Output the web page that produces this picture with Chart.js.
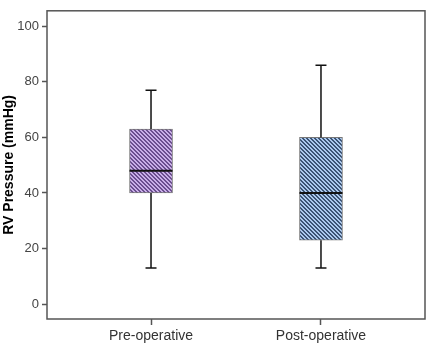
<!DOCTYPE html>
<html>
<head>
<meta charset="utf-8">
<script src="https://cdn.jsdelivr.net/npm/chart.js@4.4.0/dist/chart.umd.min.js"></script>
<style>
  html, body { margin: 0; padding: 0; background: #fff; }
  #wrap { width: 433px; height: 347px; }
</style>
</head>
<body>
<div id="wrap"><canvas id="myChart" width="433" height="347"></canvas></div>
<script>
// Box plot values
const categories = ["Pre-operative", "Post-operative"];
const minVals = [13, 13];
const q1Vals = [40, 23];
const medianVals = [48, 40];
const q3Vals = [63, 60];
const maxVals = [77, 86];
const yTicks = [0, 20, 40, 60, 80, 100];

// hatched fill, lines going down to the right
function hatch(light, dark) {
    const c = document.createElement("canvas");
    c.width = 4; c.height = 4;
    const g = c.getContext("2d");
    g.fillStyle = light;
    g.fillRect(0, 0, 4, 4);
    g.fillStyle = dark;
    for (let i = 0; i < 4; i++) {
        g.fillRect(i, i, 1, 1);
        g.fillRect((i + 1) % 4, i, 1, 1);
    }
    return g.createPattern(c, "repeat");
}

// whiskers, medians and the frame round the plot
const boxExtras = {
    id: "boxExtras",
    afterDatasetsDraw(chart) {
        const ctx = chart.ctx;
        const xs = chart.scales.x, ys = chart.scales.y;
        const meta = chart.getDatasetMeta(0);
        ctx.save();
        ctx.strokeStyle = "#111";
        categories.forEach((c, i) => {
            const x = xs.getPixelForValue(i);
            const half = meta.data[i].width / 2;
            ctx.lineWidth = 1.5;
            ctx.beginPath();
            ctx.moveTo(x, ys.getPixelForValue(q3Vals[i]));
            ctx.lineTo(x, ys.getPixelForValue(maxVals[i]));
            ctx.moveTo(x, ys.getPixelForValue(q1Vals[i]));
            ctx.lineTo(x, ys.getPixelForValue(minVals[i]));
            ctx.moveTo(x - 5.5, ys.getPixelForValue(maxVals[i]));
            ctx.lineTo(x + 5.5, ys.getPixelForValue(maxVals[i]));
            ctx.moveTo(x - 5.5, ys.getPixelForValue(minVals[i]));
            ctx.lineTo(x + 5.5, ys.getPixelForValue(minVals[i]));
            ctx.stroke();
            ctx.lineWidth = 2;
            ctx.beginPath();
            ctx.moveTo(x - half, ys.getPixelForValue(medianVals[i]));
            ctx.lineTo(x + half, ys.getPixelForValue(medianVals[i]));
            ctx.stroke();
        });
        const a = chart.chartArea;
        ctx.strokeStyle = "#555";
        ctx.lineWidth = 1.5;
        ctx.strokeRect(a.left, a.top, a.right - a.left, a.bottom - a.top);
        ctx.restore();
    }
};

const ctx = document.getElementById("myChart").getContext("2d");
const chart = new Chart(ctx, {
    type: "bar",
    data: {
        datasets: [{
            data: categories.map((c, i) => ({ x: i, y: [q1Vals[i], q3Vals[i]] })),
            backgroundColor: [hatch("#c9aee8", "#6b4e8f"), hatch("#acc9ee", "#3b5374")],
            borderColor: "#777",
            borderWidth: 1,
            borderSkipped: false,
            barThickness: 43
        }]
    },
    options: {
        responsive: false,
        animation: false,
        layout: { padding: { top: 3, right: 8, left: 0, bottom: 0 } },
        plugins: { legend: { display: false }, tooltip: { enabled: false } },
        scales: {
            x: {
                type: "linear",
                offset: false,
                min: -0.612,
                max: 1.612,
                afterBuildTicks: s => { s.ticks = categories.map((c, i) => ({ value: i })); },
                afterFit: s => { s.height = 28; },
                ticks: {
                    callback: v => categories[v],
                    color: "#333",
                    font: { family: "Liberation Sans", size: 14 },
                    padding: 3,
                    maxRotation: 0
                },
                grid: { offset: false, drawOnChartArea: false, tickLength: 6, color: "#555", tickWidth: 1.5 },
                border: { display: false }
            },
            y: {
                min: -5.4,
                max: 105.6,
                afterBuildTicks: s => { s.ticks = yTicks.map(v => ({ value: v })); },
                afterFit: s => { s.width = 47; },
                ticks: {
                    color: "#444",
                    font: { family: "Liberation Sans", size: 13 },
                    padding: 3
                },
                grid: { drawOnChartArea: false, tickLength: 5, color: "#555", tickWidth: 1.5 },
                border: { display: false },
                title: {
                    display: true,
                    text: "RV Pressure (mmHg)",
                    color: "#000",
                    font: { family: "Liberation Sans", size: 14, weight: "bold" },
                    padding: { top: 1, bottom: 0 }
                }
            }
        }
    },
    plugins: [boxExtras]
});
</script>
</body>
</html>
